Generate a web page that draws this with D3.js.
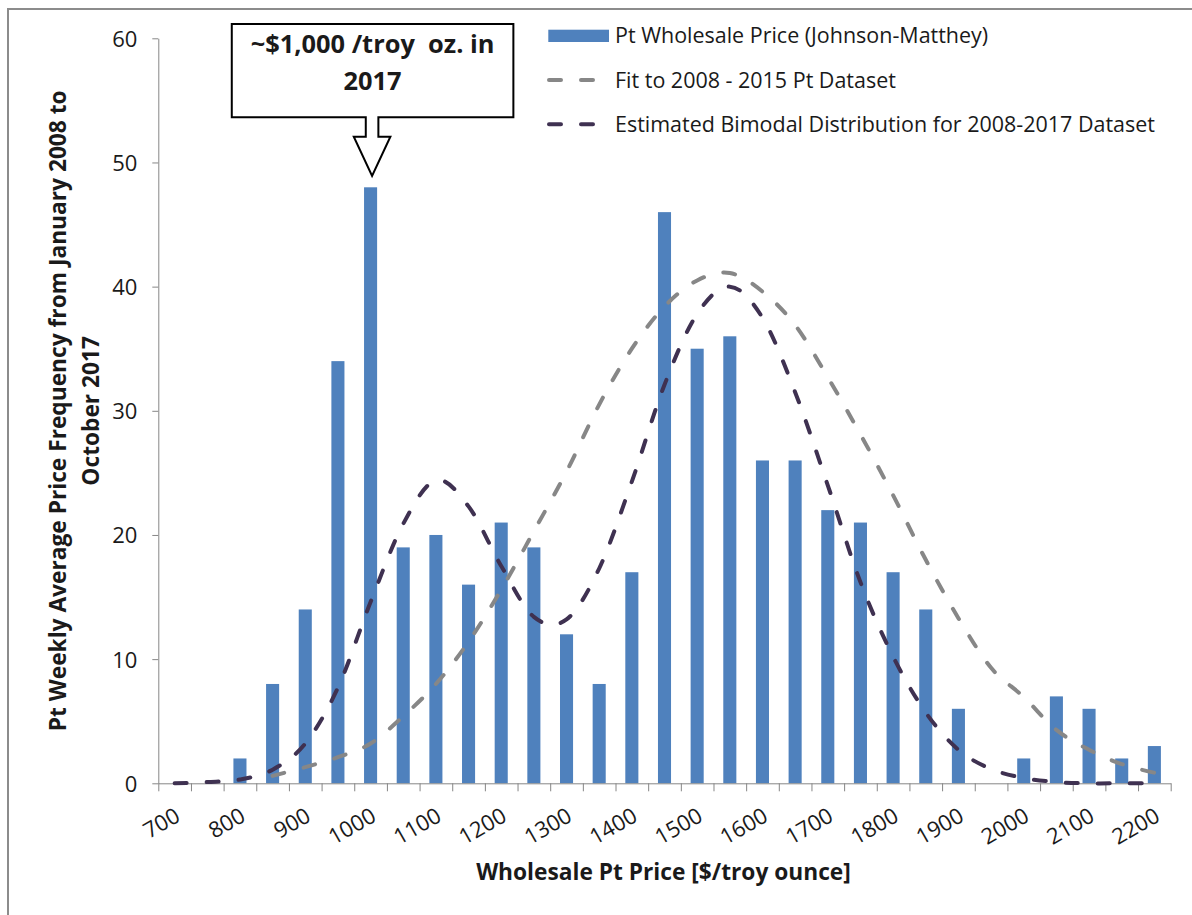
<!DOCTYPE html>
<html>
<head>
<meta charset="utf-8">
<script src="https://cdn.jsdelivr.net/npm/d3@7/dist/d3.min.js"></script>
<style>
  html, body { margin: 0; padding: 0; background: #ffffff; }
  svg { display: block; }
  text { font-family: "Open Sans", "Noto Sans", sans-serif; fill: #1a1a1a; }
</style>
</head>
<body>
<script>
// ---------------- data ----------------
const categories = ["700","750","800","850","900","950","1000","1050","1100","1150","1200","1250","1300","1350","1400","1450","1500","1550","1600","1650","1700","1750","1800","1850","1900","1950","2000","2050","2100","2150","2200"];
const barValues = [0,0,2,8,14,34,48,19,20,16,21,19,12,8,17,46,35,36,26,26,22,21,17,14,6,0,2,7,6,2,3];
const fitValues = [null,null,null,0.6,1.3,2.1,3.2,5.4,8.0,11.4,15.6,20.3,25.1,30.5,35.0,38.4,40.5,41.1,39.6,36.9,32.7,28.1,23.2,18.0,13.3,9.3,6.95,4.3,2.7,1.55,0.85];
const bimodalValues = [0,0.1,0.3,1.1,3.2,7.7,14.6,20.9,24.4,22.3,17.5,13.4,13.2,17.3,24.3,32.1,37.8,40.0,37.5,31.5,24.0,16.2,10.2,5.7,2.7,1.15,0.43,0.1,0,0,0];
const yTicks = [0,10,20,30,40,50,60];
const xTickLabels = ["700","800","900","1000","1100","1200","1300","1400","1500","1600","1700","1800","1900","2000","2100","2200"];
const seriesNames = ["Pt Wholesale Price (Johnson-Matthey)","Fit to 2008 - 2015 Pt Dataset","Estimated Bimodal Distribution for 2008-2017 Dataset"];
const xTitle = "Wholesale Pt Price [$/troy ounce]";
const yTitleLines = ["Pt Weekly Average Price Frequency from January 2008 to","October 2017"];
const noteLines = ["~$1,000 /troy  oz. in","2017"];
const noteCategory = "1000";

// ---------------- layout ----------------
const W = 1192, H = 915;
const plot = {left: 158.3, right: 1170.7, top: 38.3, bottom: 783.3};
const colors = {bar: "#4F81BD", fit: "#878787", bimodal: "#3F3151", axis: "#868686", frame: "#8c8c8c"};
const tickFont = 22;

const svg = d3.select("body").append("svg").attr("width", W).attr("height", H);

// outer frame (chart area border, partly cropped)
svg.append("rect").attr("x", 8).attr("y", 9).attr("width", 1400).attr("height", 1200)
  .attr("fill", "none").attr("stroke", colors.frame).attr("stroke-width", 2);

const x = d3.scaleBand().domain(categories).range([plot.left, plot.right])
  .paddingInner(0.6).paddingOuter(0.3);
const xc = c => x(c) + x.bandwidth() / 2;
const xb = d3.scaleLinear().domain([0, categories.length]).range([plot.left, plot.right]);
const y = d3.scaleLinear().domain([0, 60]).range([plot.bottom, plot.top]);

function fit(sel, target) {
  const w = sel.node().getComputedTextLength();
  const fs = parseFloat(sel.attr("font-size"));
  const nf = fs * target / w;
  sel.attr("font-size", nf);
  return nf;
}

// bars
const barData = categories.map((c, i) => ({c, v: barValues[i]}));
svg.append("g").selectAll("rect").data(barData.filter(d => d.v > 0)).join("rect")
  .attr("x", d => x(d.c)).attr("width", x.bandwidth())
  .attr("y", d => y(d.v)).attr("height", d => y(0) - y(d.v))
  .attr("fill", colors.bar);

// y axis
const yAxis = svg.append("g").attr("transform", `translate(${plot.left},0)`)
  .call(d3.axisLeft(y).tickValues(yTicks).tickSize(6).tickSizeOuter(0).tickPadding(15));
yAxis.select(".domain").attr("stroke", colors.axis);
yAxis.selectAll(".tick line").attr("stroke", colors.axis);
yAxis.selectAll(".tick text").attr("font-family", "Open Sans").attr("font-size", tickFont)
  .attr("fill", "#1a1a1a").attr("dy", "0.36em");

// x axis (ticks between categories)
const xAxis = svg.append("g").attr("transform", `translate(0,${plot.bottom})`)
  .call(d3.axisBottom(xb).tickValues(d3.range(categories.length + 1)).tickFormat("").tickSize(8).tickSizeOuter(0));
xAxis.select(".domain").attr("stroke", colors.axis);
xAxis.selectAll(".tick line").attr("stroke", colors.axis);

svg.append("g").selectAll("text").data(xTickLabels).join("text")
  .attr("transform", d => `translate(${xc(d) + 3},${plot.bottom + 30}) rotate(-30)`)
  .attr("text-anchor", "end").attr("dy", "0.36em")
  .attr("font-size", tickFont).text(d => d);

// lines
function lineFor(vals) {
  return d3.line().defined(d => d.v != null)
    .x(d => xc(d.c)).y(d => y(d.v))
    .curve(d3.curveCatmullRom.alpha(0))(categories.map((c, i) => ({c, v: vals[i]})));
}
const dashStyle = g => g.attr("fill", "none").attr("stroke-width", 4)
  .attr("stroke-linecap", "round").attr("stroke-dasharray", "12,20");
svg.append("path").attr("d", lineFor(fitValues)).attr("stroke", colors.fit).call(dashStyle);
svg.append("path").attr("d", lineFor(bimodalValues)).attr("stroke", colors.bimodal).call(dashStyle);

// legend
const lg = svg.append("g");
const rowY = [35.7, 80, 124.3];
lg.append("rect").attr("x", 548.3).attr("y", rowY[0] - 6).attr("width", 60.7).attr("height", 12.3).attr("fill", colors.bar);
[colors.fit, colors.bimodal].forEach((col, i) => {
  lg.append("line").attr("x1", 549).attr("x2", 595).attr("y1", rowY[i + 1]).attr("y2", rowY[i + 1])
    .attr("stroke", col).call(dashStyle);
});
const legTexts = seriesNames.map((s, i) => lg.append("text").attr("x", 615).attr("y", rowY[i])
  .attr("dy", "0.36em").attr("font-size", 20).text(s));
const legFs = fit(legTexts[2], 540);
legTexts.forEach(t => t.attr("font-size", legFs));

// x title
const xt = svg.append("text").attr("x", 663.5).attr("y", 880).attr("text-anchor", "middle")
  .attr("font-weight", "bold").attr("font-size", 20).text(xTitle);
const titleFs = fit(xt, 375);

// y title
yTitleLines.forEach((t, i) => {
  svg.append("text").attr("transform", `translate(${[58, 91][i]},${(plot.top + plot.bottom) / 2}) rotate(-90)`)
    .attr("text-anchor", "middle").attr("dy", "0.36em")
    .attr("font-weight", "bold").attr("font-size", titleFs).text(t);
});

// annotation callout (anchored to the 1000 bar)
const tipX = xc(noteCategory) + 1.5, tipY = y(barValues[categories.indexOf(noteCategory)]) - 11.5;
const box = {l: tipX - 140.3, r: tipX + 141.3, t: 24, b: 117.3};
const shaftHalf = 6.3, wingHalf = 18.3, shaftBottom = 136.7;
const p = d3.path();
p.moveTo(box.l, box.t); p.lineTo(box.r, box.t); p.lineTo(box.r, box.b);
p.lineTo(tipX + shaftHalf, box.b); p.lineTo(tipX + shaftHalf, shaftBottom);
p.lineTo(tipX + wingHalf, shaftBottom); p.lineTo(tipX, tipY);
p.lineTo(tipX - wingHalf, shaftBottom); p.lineTo(tipX - shaftHalf, shaftBottom);
p.lineTo(tipX - shaftHalf, box.b); p.lineTo(box.l, box.b); p.closePath();
svg.append("path").attr("d", p.toString()).attr("fill", "#ffffff").attr("stroke", "#000000")
  .attr("stroke-width", 2).attr("stroke-linejoin", "miter");
const cx = (box.l + box.r) / 2;
const n1 = svg.append("text").attr("x", cx).attr("y", 53.3).attr("text-anchor", "middle")
  .attr("font-weight", "bold").attr("font-size", 22).style("white-space", "pre").text(noteLines[0]);
const noteFs = fit(n1, 244);
svg.append("text").attr("x", cx).attr("y", 90).attr("text-anchor", "middle")
  .attr("font-weight", "bold").attr("font-size", noteFs).text(noteLines[1]);
</script>
</body>
</html>
